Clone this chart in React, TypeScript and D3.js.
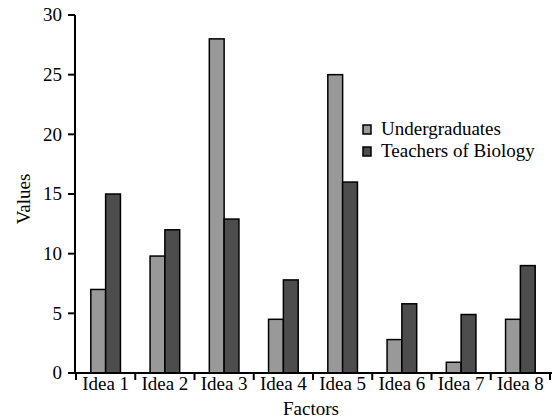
import React from "react";
import * as d3 from "d3";

const categories = ["Idea 1", "Idea 2", "Idea 3", "Idea 4", "Idea 5", "Idea 6", "Idea 7", "Idea 8"];
const seriesNames = ["Undergraduates", "Teachers of Biology"];
const undergraduates = [7, 9.8, 28, 4.5, 25, 2.8, 0.9, 4.5];
const teachers = [15, 12, 12.9, 7.8, 16, 5.8, 4.9, 9];
const yTicks = [0, 5, 10, 15, 20, 25, 30];
const colors = ["#999999", "#4d4d4d"];

export default function App() {
  const W = 554, H = 419;
  const x0 = 76, x1 = 550, yTop = 15, yBot = 373;
  const x = d3.scaleBand().domain(categories).range([x0, x1]).paddingInner(0).paddingOuter(0);
  const y = d3.scaleLinear().domain([0, 30]).range([yBot, yTop]);
  const bw = x.bandwidth() / 4;
  const series = [undergraduates, teachers];
  const ts = { fontFamily: '"Liberation Serif"', fontSize: "19px" } as React.CSSProperties;
  const boundaries = categories.map((c) => x(c)!).concat([x1]);
  return (
    <svg width={W} height={H} style={{ position: "absolute", left: 0, top: 0 }}>
      <rect x={0} y={0} width={W} height={H} fill="#fff" />
      {series.map((vals, si) =>
        vals.map((v, i) => {
          const cx = x(categories[i])! + x.bandwidth() / 2;
          const bx = cx - bw + si * bw;
          return (
            <rect key={si + "-" + i} x={bx} y={y(v)} width={bw} height={yBot - y(v)}
              fill={colors[si]} stroke="#000" strokeWidth={1.5} />
          );
        })
      )}
      <line x1={x0 - 1} x2={x0 - 1} y1={yTop} y2={yBot + 1} stroke="#000" strokeWidth={2} />
      {yTicks.map((t) => (
        <g key={t}>
          <line x1={x0 - 8} x2={x0 - 1} y1={y(t)} y2={y(t)} stroke="#000" strokeWidth={2} />
          <text x={62} y={y(t)} dy="0.33em" textAnchor="end" style={ts} fill="#000">{t}</text>
        </g>
      ))}
      <line x1={x0 - 8} x2={x1 + 2} y1={yBot} y2={yBot} stroke="#000" strokeWidth={2} />
      {boundaries.map((b, i) => (
        <line key={i} x1={b} x2={b} y1={yBot} y2={yBot + 7} stroke="#000" strokeWidth={2} />
      ))}
      {categories.map((c) => (
        <text key={c} x={x(c)! + x.bandwidth() / 2} y={390} textAnchor="middle" style={ts} fill="#000">{c}</text>
      ))}
      <text x={(x0 + x1) / 2 - 2} y={415} textAnchor="middle" style={ts} fill="#000">Factors</text>
      <text transform={`translate(30,199) rotate(-90)`} textAnchor="middle" style={ts} fill="#000">Values</text>
      {seriesNames.map((n, i) => (
        <g key={n} transform={`translate(363,${125 + i * 22})`}>
          <rect x={0} y={0} width={8} height={9} fill={colors[i]} stroke="#000" strokeWidth={1.5} />
          <text x={18} y={10} style={ts} fill="#000">{n}</text>
        </g>
      ))}
    </svg>
  );
}
